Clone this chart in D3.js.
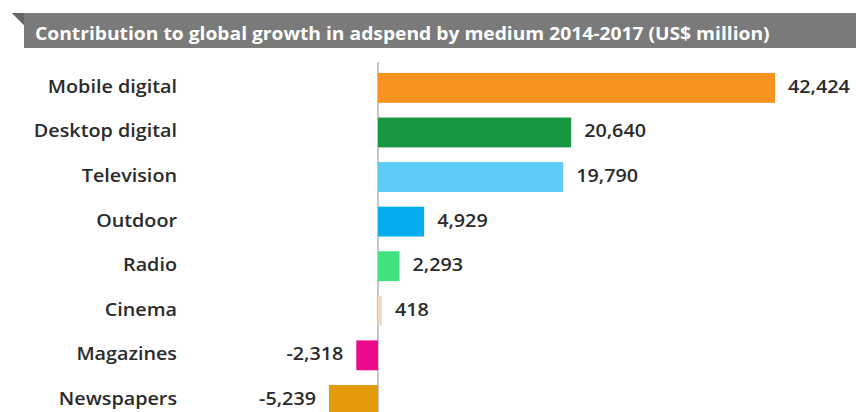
<!DOCTYPE html>
<html>
<head>
<meta charset="utf-8">
<script src="https://cdn.jsdelivr.net/npm/d3@7"></script>
<style>
  html, body { margin: 0; padding: 0; background: #ffffff; }
  svg { display: block; }
</style>
</head>
<body>
<script>
// Contribution to global adspend growth by medium, 2014-2017 (US$ million)
const title = "Contribution to global growth in adspend by medium 2014-2017 (US$ million)";
const media = ["Mobile digital", "Desktop digital", "Television", "Outdoor", "Radio", "Cinema", "Magazines", "Newspapers"];
const growth = [42424, 20640, 19790, 4929, 2293, 418, -2318, -5239];
const colors = ["#f7931e", "#17973f", "#5dcdf7", "#05aced", "#3fe27c", "#f5d7c4", "#eb0a8c", "#e39b0c"];

const W = 856, H = 412;
const FONT = "'Open Sans', sans-serif";
const SX = 1.13; // wide lettering
const svg = d3.select("body").append("svg").attr("width", W).attr("height", H);

const rows = media.map((m, i) => ({ medium: m, value: growth[i], color: colors[i] }));

const x = d3.scaleLinear().domain([0, 42424]).range([378, 775]);
const y = d3.scaleBand().domain(media).range([65.6, 422.2]).paddingInner(0.33).paddingOuter(0.165);

// Title banner with a folded left corner
svg.append("path")
  .attr("d", `M12,13 L${W},13 L${W},48 L24,48 L24,25 Z`)
  .attr("fill", "#7a7a7a");
svg.append("path").attr("d", "M12,13 L24,13 L24,25 Z").attr("fill", "#666666");
svg.append("text")
  .attr("transform", "translate(35,40) scale(1.07,1)")
  .attr("font-family", FONT)
  .attr("font-weight", 700)
  .attr("font-size", 18)
  .attr("fill", "#ffffff")
  .text(title);

// Zero baseline
svg.append("line")
  .attr("x1", x(0)).attr("x2", x(0))
  .attr("y1", 62).attr("y2", H)
  .attr("stroke", "#8c8c8c").attr("stroke-width", 1);

// Bars
svg.selectAll("rect.bar").data(rows).enter().append("rect")
  .attr("class", "bar")
  .attr("x", d => Math.min(x(0), x(d.value)))
  .attr("width", d => Math.abs(x(d.value) - x(0)))
  .attr("y", d => y(d.medium))
  .attr("height", y.bandwidth())
  .attr("fill", d => d.color);

const mid = d => y(d.medium) + y.bandwidth() / 2 + 5;

// Category labels
svg.selectAll("text.cat").data(rows).enter().append("text")
  .attr("class", "cat")
  .attr("transform", d => `translate(177,${mid(d)}) scale(${SX},1)`)
  .attr("text-anchor", "end")
  .attr("font-family", FONT)
  .attr("font-weight", 600)
  .attr("font-size", 17.5)
  .attr("fill", "#2b2b2b")
  .text(d => d.medium);

// Value labels, negatives with a plain hyphen
const fmt = v => d3.format(",")(v).replace("\u2212", "-");
svg.selectAll("text.val").data(rows).enter().append("text")
  .attr("class", "val")
  .attr("transform", d => {
    const tx = d.value >= 0 ? x(d.value) + 13 : x(d.value) - 13;
    return `translate(${tx},${mid(d)}) scale(${SX},1)`;
  })
  .attr("text-anchor", d => d.value >= 0 ? "start" : "end")
  .attr("font-family", FONT)
  .attr("font-weight", 600)
  .attr("font-size", 17.5)
  .attr("fill", "#2b2b2b")
  .text(d => fmt(d.value));
</script>
</body>
</html>
